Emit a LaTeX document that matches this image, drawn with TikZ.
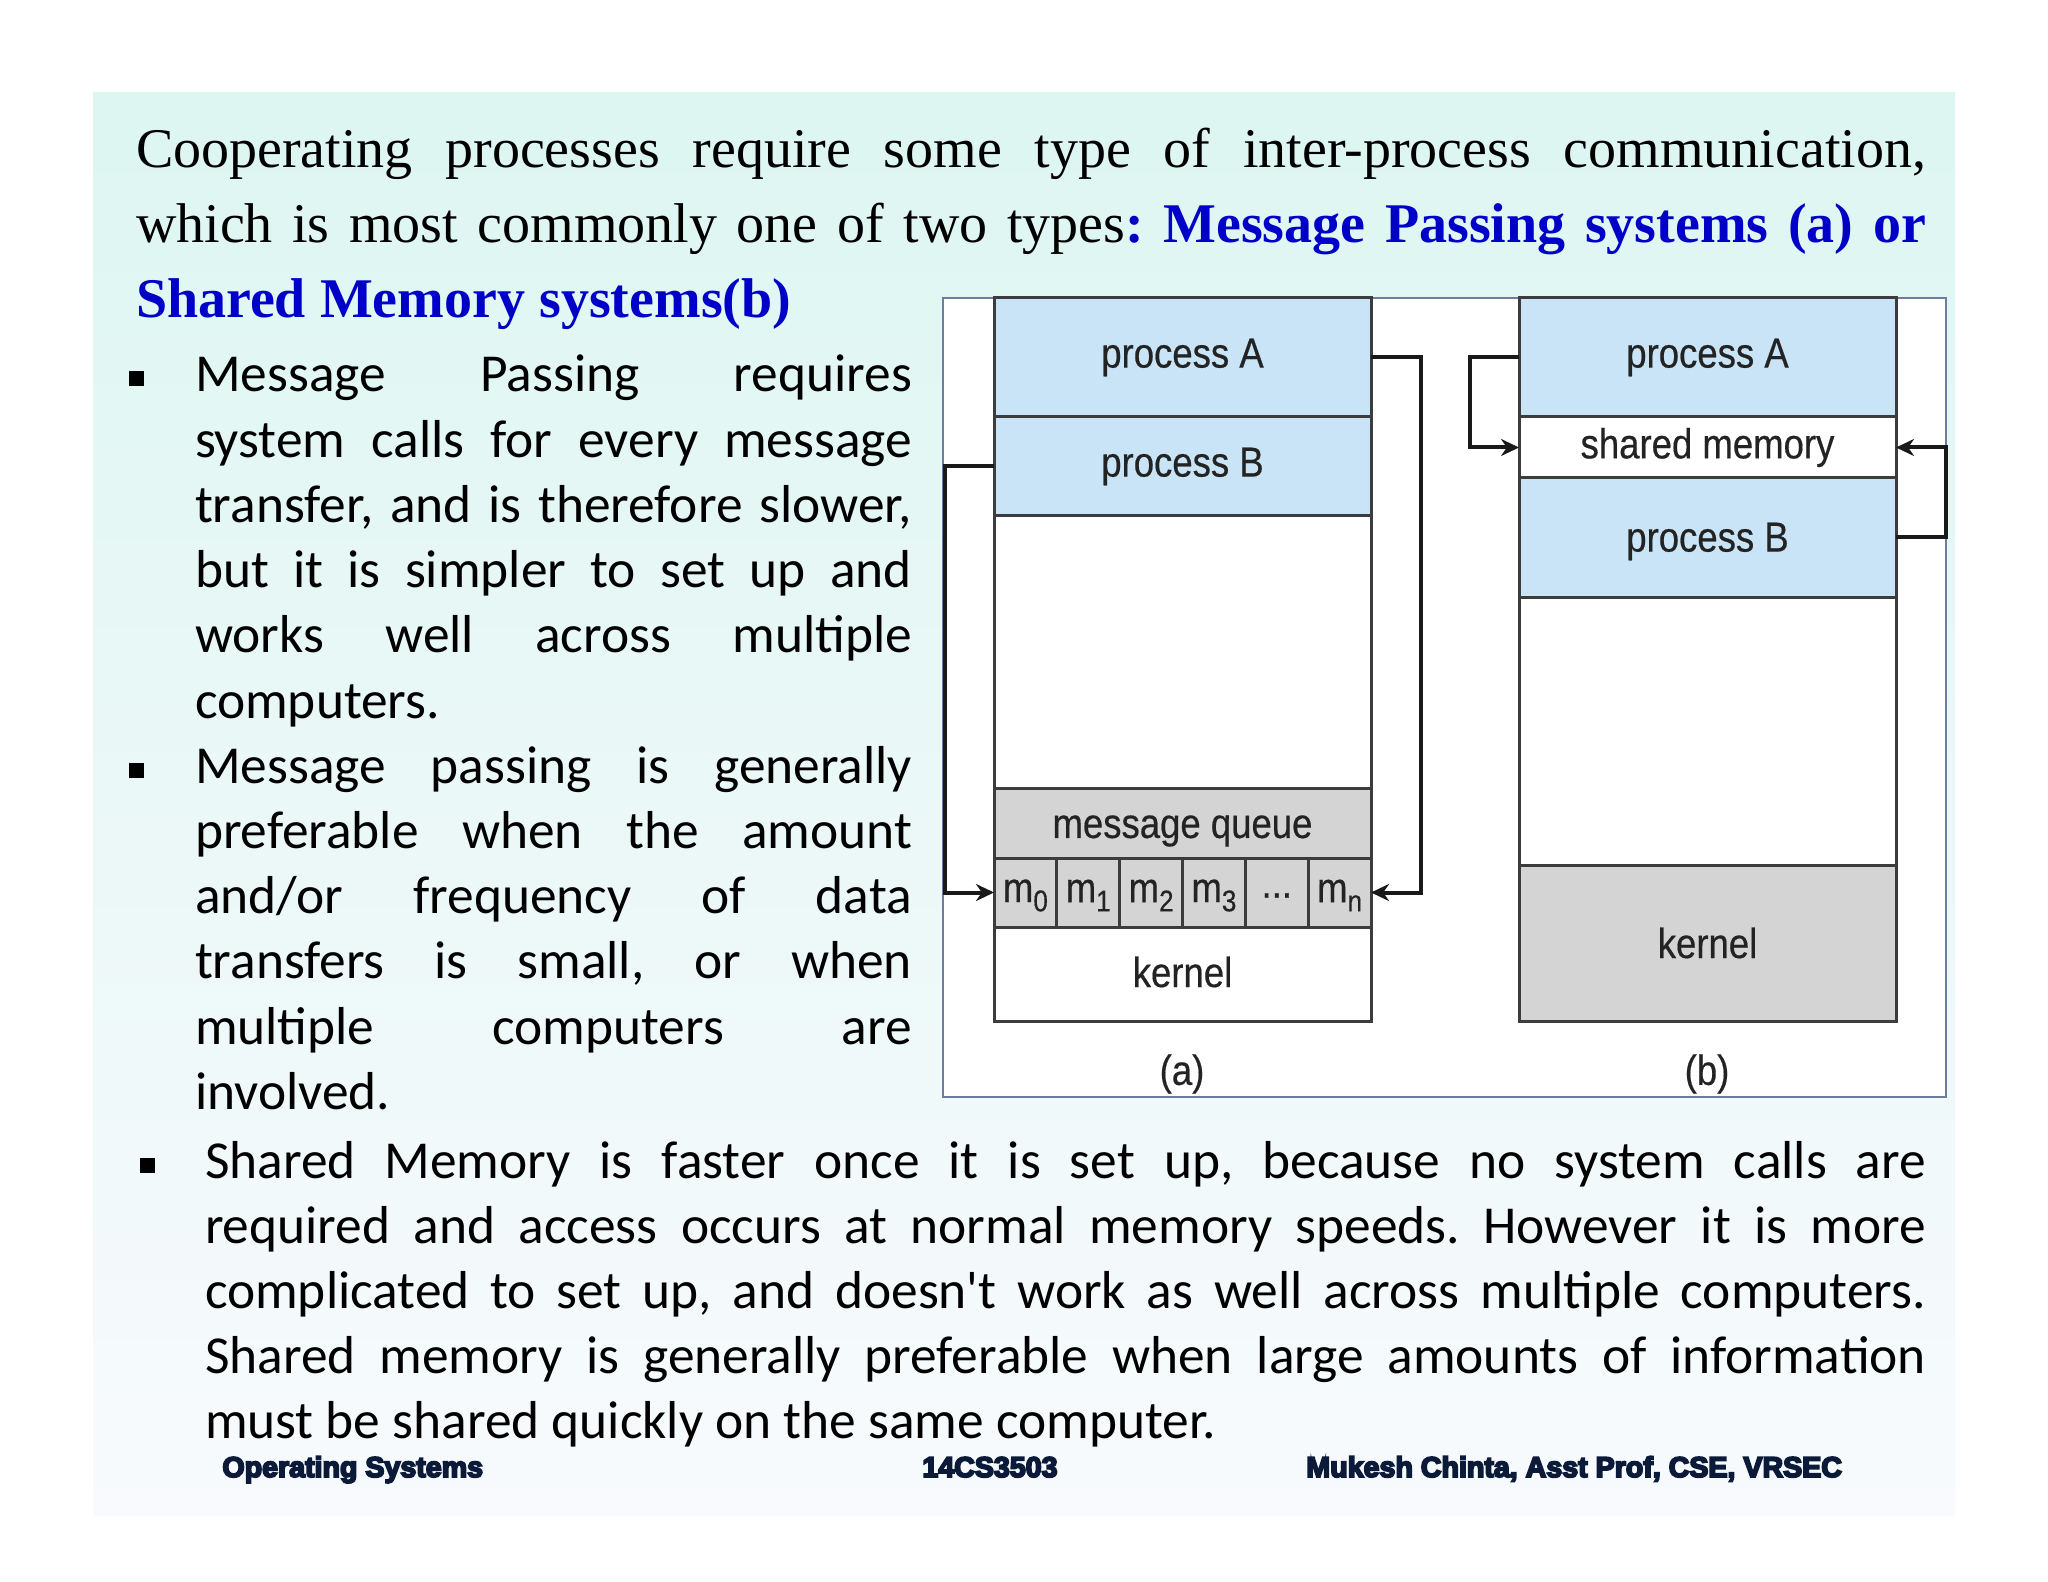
\documentclass[tikz,border=0pt]{standalone}
\usepackage{fontspec}
\setmainfont{Liberation Serif}
\newfontfamily\calib{Carlito}
\newfontfamily\diagf[FakeStretch=0.87,FakeBold=0.4]{Liberation Sans}
\newfontfamily\footf{Liberation Sans}
\usetikzlibrary{arrows.meta}

\definecolor{bgtop}{RGB}{221,246,241}
\definecolor{bgmid}{RGB}{234,247,248}
\definecolor{bgbot}{RGB}{248,250,253}
\definecolor{hiblue}{RGB}{0,0,200}
\definecolor{procblue}{RGB}{200,228,246}
\definecolor{qgray}{RGB}{212,212,212}
\definecolor{boxline}{RGB}{60,60,60}
\definecolor{diagtext}{RGB}{35,35,35}
\definecolor{framec}{RGB}{110,125,155}
\definecolor{footc}{RGB}{10,26,56}

\newcommand{\msub}[1]{\raisebox{-0.22em}{\fontsize{15}{15}\selectfont #1}}
\newcommand{\shiftdn}[2]{\raisebox{-#1}[\height][\depth]{#2}}
\newcommand{\heavy}[1]{\special{pdf:literal direct 2 Tr 0.9 w}#1\special{pdf:literal direct 0 Tr}}

\tikzset{
  serifline/.style={anchor=base west, inner sep=0, outer sep=0, font=\fontsize{28}{37.5}\selectfont},
  bodyline/.style={anchor=base west, inner sep=0, outer sep=0, font=\calib\fontsize{26.7}{32.6}\selectfont},
  bul/.style={fill=black, minimum size=7.5pt, inner sep=0, outer sep=0},
  dbox/.style={draw=boxline, line width=1.5pt, inner sep=0, outer sep=0, anchor=north west,
    minimum width=188.5pt, font=\diagf\fontsize{21}{21}\selectfont, text=diagtext},
  mcell/.style={dbox, fill=qgray, minimum width=31.42pt, minimum height=34.5pt},
  dlabel/.style={font=\diagf\fontsize{21}{21}\selectfont, text=diagtext, inner sep=0},
  arr/.style={line width=2pt, draw=black!90, -{Stealth[length=9pt,width=8.5pt]}},
  footline/.style={anchor=base west, inner sep=0, font=\footf\bfseries\fontsize{14.3}{16}\selectfont, text=footc}
}

\begin{document}
\frenchspacing
\begin{tikzpicture}[x=0.5pt,y=-0.5pt]
\useasboundingbox (0,0) rectangle (2048,1582);
\fill[white] (0,0) rectangle (2048,1582);
\shade[top color=bgtop, middle color=bgmid, bottom color=bgbot] (93,93) rectangle (1955,1515);

% ---- heading paragraph
\node[serifline] (t1) at (136,168) {\makebox[895pt][s]{Cooperating processes require some type of inter-process communication,}};
\node[serifline] (t2) at (136,243) {\makebox[895pt][s]{which is most commonly one of two types\textcolor{hiblue}{\bfseries: Message Passing systems (a) or}}};
\node[serifline] (t3) at (136,318) {\textcolor{hiblue}{\bfseries Shared Memory systems(b)}};

% ---- left bullets
\node[bul] (b1) at (136,379) {};
\node[bul] (b2) at (136,770) {};
\node[bodyline] (l1) at (195,392) {\makebox[358.5pt][s]{Message Passing requires}};
\node[bodyline] (l2) at (195,457.2) {\makebox[358.5pt][s]{system calls for every message}};
\node[bodyline] (l3) at (195,522.4) {\makebox[358.5pt][s]{transfer, and is therefore slower,}};
\node[bodyline] (l4) at (195,587.6) {\makebox[358.5pt][s]{but it is simpler to set up and}};
\node[bodyline] (l5) at (195,652.8) {\makebox[358.5pt][s]{works well across multiple}};
\node[bodyline] (l6) at (195,718) {computers.};
\node[bodyline] (l7) at (195,783.2) {\makebox[358.5pt][s]{Message passing is generally}};
\node[bodyline] (l8) at (195,848.4) {\makebox[358.5pt][s]{preferable when the amount}};
\node[bodyline] (l9) at (195,913.6) {\makebox[358.5pt][s]{and/or frequency of data}};
\node[bodyline] (l10) at (195,978.8) {\makebox[358.5pt][s]{transfers is small, or when}};
\node[bodyline] (l11) at (195,1044) {\makebox[358.5pt][s]{multiple computers are}};
\node[bodyline] (l12) at (195,1109.2) {involved.};

% ---- bottom bullet
\node[bul] (b3) at (147,1165) {};
\node[bodyline] (s1) at (205,1178) {\makebox[860.5pt][s]{Shared Memory is faster once it is set up, because no system calls are}};
\node[bodyline] (s2) at (205,1243.2) {\makebox[860.5pt][s]{required and access occurs at normal memory speeds. However it is more}};
\node[bodyline] (s3) at (205,1308.4) {\makebox[860.5pt][s]{complicated to set up, and doesn't work as well across multiple computers.}};
\node[bodyline] (s4) at (205,1373.6) {\makebox[860.5pt][s]{Shared memory is generally preferable when large amounts of information}};
\node[bodyline] (s5) at (205,1438.8) {must be shared quickly on the same computer.};

% ---- footer
\node[footline] (f1) at (222,1477) {\heavy{Operating Systems}};
\node[footline] (f2) at (922,1477) {\heavy{14CS3503}};
\node[footline] (f3) at (1306,1477) {\heavy{Mukesh Chinta, Asst Prof, CSE, VRSEC}};

% ---- diagram frame
\draw[draw=framec, line width=0.6pt, fill=white] (943,298) rectangle (1946,1097);

% (a) message passing
\node[dbox, fill=procblue, minimum height=59.5pt] (pa) at (994,298) {process A};
\node[dbox, fill=procblue, minimum height=49.5pt] (pb) at (994,417) {process B};
\node[dbox, fill=white, minimum height=136pt] (ea) at (994,516) {};
\node[dbox, fill=qgray, minimum height=35pt] (mq) at (994,788) {\shiftdn{4pt}{message queue}};
\node[mcell] (m0) at (994,858) {\shiftdn{1.5pt}{m\msub{0}}};
\node[mcell] (m1) at (1056.83,858) {\shiftdn{1.5pt}{m\msub{1}}};
\node[mcell] (m2) at (1119.67,858) {\shiftdn{1.5pt}{m\msub{2}}};
\node[mcell] (m3) at (1182.5,858) {\shiftdn{1.5pt}{m\msub{3}}};
\node[mcell] (m4) at (1245.33,858) {\shiftdn{1.5pt}{...}};
\node[mcell] (mn) at (1308.17,858) {\shiftdn{1.5pt}{m\msub{n}}};
\node[dbox, fill=white, minimum height=47pt] (ka) at (994,927) {\shiftdn{-1pt}{kernel}};
\node[dlabel] (la) at (1182,1074) {(a)};

% (b) shared memory
\node[dbox, fill=procblue, minimum height=59.5pt] (qa) at (1519,298) {process A};
\node[dbox, fill=white, minimum height=30.5pt] (shm) at (1519,417) {shared memory};
\node[dbox, fill=procblue, minimum height=59.5pt] (qb) at (1519,478) {\shiftdn{2pt}{process B}};
\node[dbox, fill=white, minimum height=134pt] (eb) at (1519,597) {};
\node[dbox, fill=qgray, minimum height=78pt] (kb) at (1519,865) {kernel};
\node[dlabel] (lb) at (1707,1074) {(b)};

% arrows
\draw[arr] (pa.east) -- ++(25pt,0) |- (mn.east);
\draw[arr] (pb.west) -- ++(-24.5pt,0) |- (m0.west);
\draw[arr] (qa.west) -- ++(-24.5pt,0) |- (shm.west);
\draw[arr] (qb.east) -- ++(25pt,0) |- (shm.east);
\end{tikzpicture}
\end{document}
